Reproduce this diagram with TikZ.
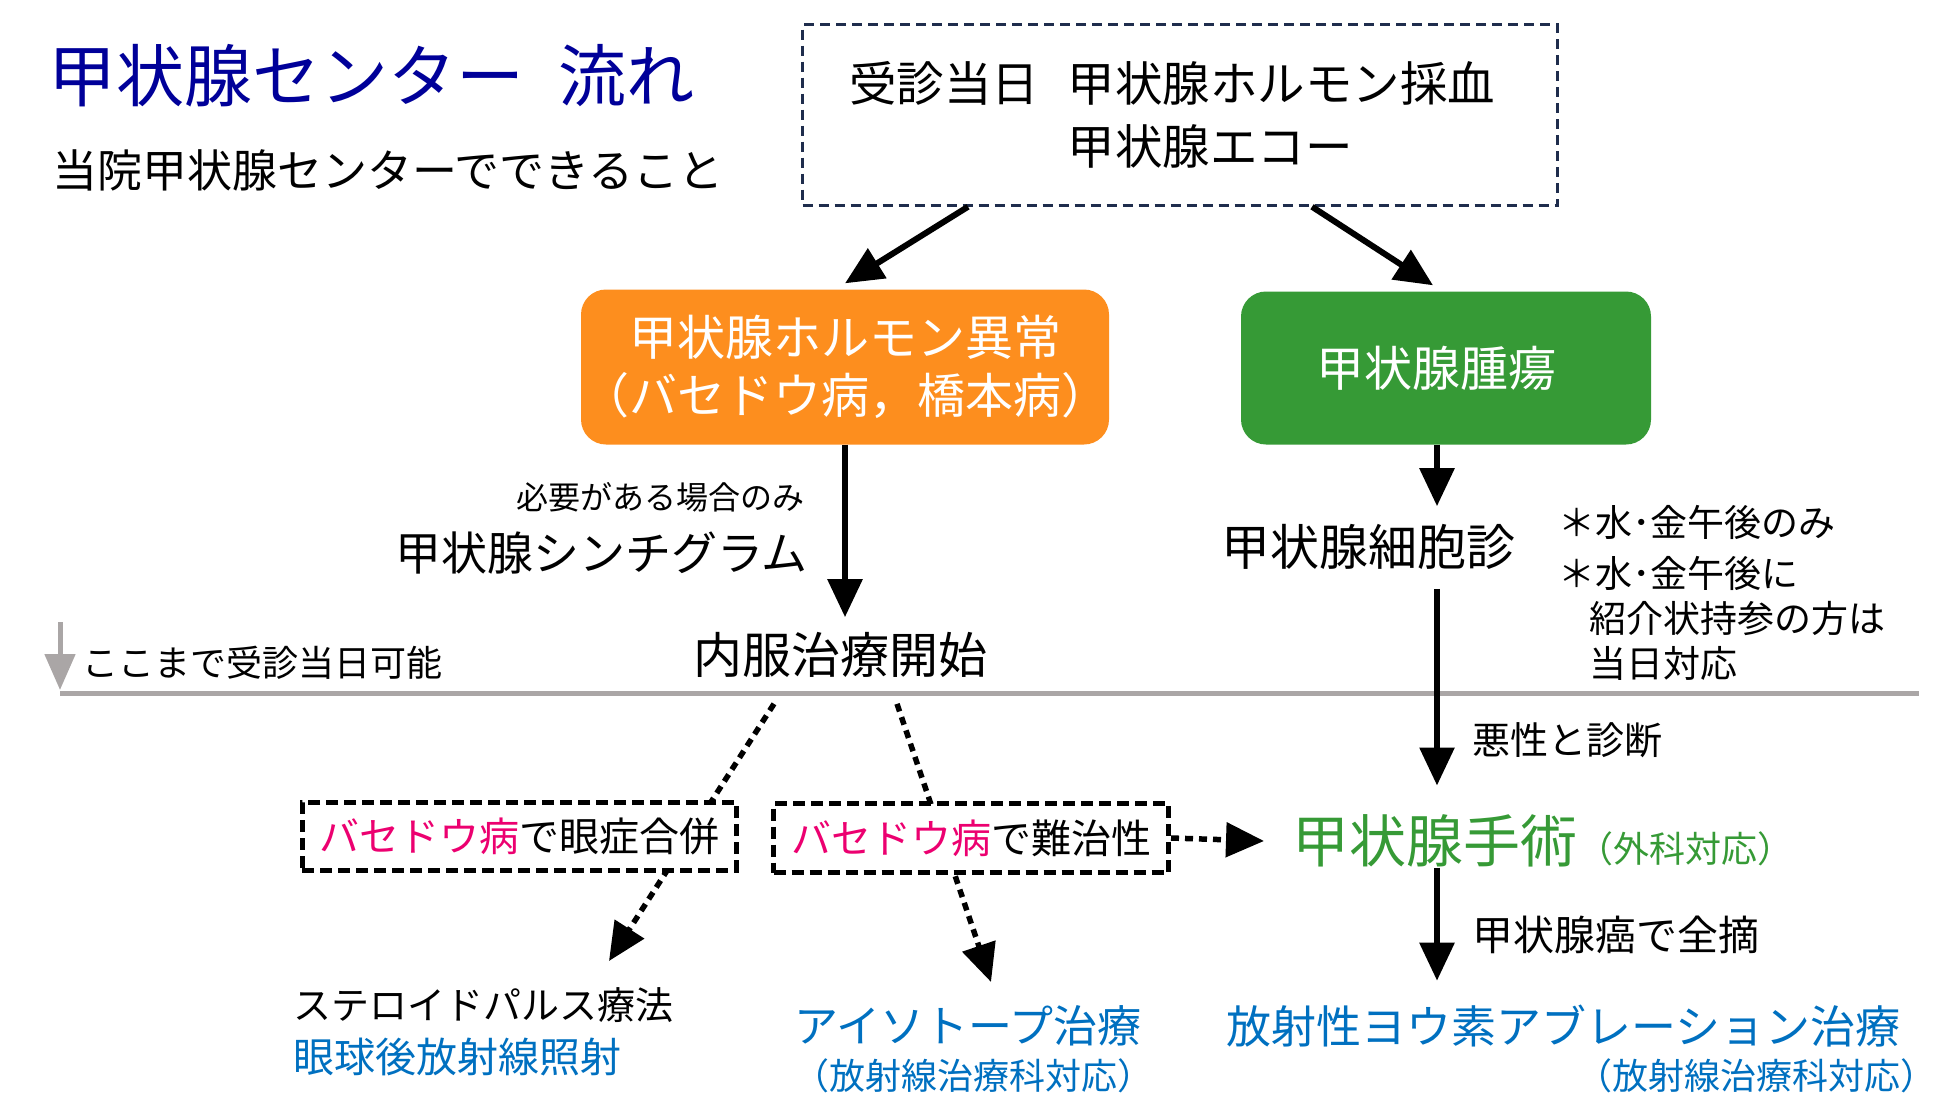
\documentclass[tikz,border=0pt]{standalone}
\usepackage{fontspec}
\setmainfont{Noto Sans CJK JP}
\usetikzlibrary{arrows.meta,positioning,backgrounds}
\definecolor{titleblue}{RGB}{0,0,153}
\definecolor{boxnavy}{RGB}{31,45,77}
\definecolor{horange}{RGB}{253,142,30}
\definecolor{tgreen}{RGB}{54,154,54}
\definecolor{bpink}{RGB}{236,0,112}
\definecolor{rblue}{RGB}{0,112,192}
\definecolor{linegray}{RGB}{170,166,166}
\newcommand{\jsize}[2]{\fontsize{#1}{#2}\selectfont}

\begin{document}
\begin{tikzpicture}[x=1pt,y=-1pt,
 txt/.style={inner sep=0pt,align=left},
 arr/.style={line width=6pt,-{Triangle[length=38pt,width=34pt]}},
 dotarr/.style={line width=5.5pt,dash pattern=on 8pt off 6pt,-{Triangle[length=38pt,width=34pt]}},
 fillbox/.style={rounded corners=25pt,text=white,align=center,inner sep=0pt,minimum height=155pt},
 dashbox/.style={draw,line width=5pt,dash pattern=on 12pt off 6pt,fill=white,minimum height=68pt,inner sep=0pt}]
 \useasboundingbox (0,0) rectangle (1950,1119);
 \node[txt,anchor=west,text=titleblue,font=\jsize{68}{72}] (title) at (48,76) {甲状腺センター\hspace{.5em}流れ};
 \node[txt,anchor=west,font=\jsize{45}{50}] (sub) at (52,170) {当院甲状腺センターでできること};
 \node[draw=boxnavy,line width=2.5pt,dash pattern=on 10pt off 6pt,minimum width=755pt,minimum height=181pt,align=left,font=\jsize{47.5}{63}] (entry) at (1180,115)
 {受診当日\hspace{.6em}甲状腺ホルモン採血\hspace*{16pt}\\\phantom{受診当日}\hspace{.6em}甲状腺エコー};
 \node[fillbox,fill=horange,minimum width=523pt,font=\jsize{48}{58}] (hormone) at (845,367) {甲状腺ホルモン異常\\（バセドウ病，橋本病）};
 \node[fillbox,fill=tgreen,minimum width=410pt,minimum height=153pt,font=\jsize{48}{52}] (tumor) at (1446,368) {甲状腺腫瘍\hspace*{20pt}};
 \node[txt,anchor=east,font=\jsize{32}{36}] (need) at (805,497) {必要がある場合のみ};
 \node[txt,anchor=east,font=\jsize{46}{50}] (scinti) at (808,553) {甲状腺シンチグラム};
 \node[txt,font=\jsize{49}{52}] (naifuku) at (840,655) {内服治療開始};
 \node[txt,font=\jsize{49}{52}] (saibo) at (1368,547) {甲状腺細胞診};
 \node[txt,anchor=west,font=\jsize{37}{45}] (note1) at (1558,522) {＊水･金午後のみ};
 \node[txt,anchor=north west,font=\jsize{37}{45}] (note2) at (1558,556) {＊水･金午後に\\\hspace*{.85em}紹介状持参の方は\\\hspace*{.85em}当日対応};
 \node[txt,anchor=west,font=\jsize{36}{40}] (today) at (82,663) {ここまで受診当日可能};
 \node[txt,anchor=west,font=\jsize{38}{42}] (akusei) at (1472,740) {悪性と診断};
 \node[dashbox,minimum width=434pt,font=\jsize{40}{44}] (eye) at (519,836) {\textcolor{bpink}{バセドウ病}で眼症合併};
 \node[dashbox,minimum width=395pt,minimum height=69pt,font=\jsize{40}{44}] (nanchi) at (971,838) {\textcolor{bpink}{バセドウ病}で難治性};
 \node[txt,anchor=west,text=tgreen,font=\jsize{57}{60}] (surgery) at (1292,841) {甲状腺手術{\jsize{36}{40}（外科対応）}};
 \node[txt,anchor=west,font=\jsize{41}{44}] (zentekki) at (1472,935) {甲状腺癌で全摘};
 \node[txt,anchor=west,text=rblue,font=\jsize{45}{48}] (ablation) at (1226,1026) {放射性ヨウ素アブレーション治療};
 \node[txt,anchor=east,text=rblue,font=\jsize{36}{40}] (ablsub) at (1937,1076) {（放射線治療科対応）};
 \node[txt,anchor=west,text=rblue,font=\jsize{44}{48}] (isotope) at (794,1026) {アイソトープ治療};
 \node[txt,anchor=west,text=rblue,font=\jsize{36}{40}] (isosub) at (793,1076) {（放射線治療科対応）};
 \node[txt,anchor=west,font=\jsize{38}{42}] (steroid) at (293,1005) {ステロイドパルス療法};
 \node[txt,anchor=west,text=rblue,font=\jsize{41}{44}] (retro) at (293,1057) {眼球後放射線照射};
 \coordinate (trunk) at ([xshift=-9pt]tumor.south);
 \coordinate (gl) at (60,693);
 \coordinate (gr) at (1919,693);
 \coordinate (gtop) at (60,622);
 \coordinate (d1e) at (609,961);
 \coordinate (d2e) at (991,982);
 \draw[linegray,line width=5pt] (gl) -- (gr);
 \draw[linegray,line width=5pt,-{Triangle[length=36pt,width=30pt]}] (gtop) -- ([yshift=3pt]gl);
 \draw[arr] ([xshift=-212pt]entry.south) -- ([yshift=6pt]hormone.north);
 \draw[arr] ([xshift=132pt]entry.south) -- ([xshift=-13pt,yshift=6pt]tumor.north);
 \draw[arr] (hormone.south) -- ([yshift=15pt]hormone.south |- naifuku.north);
 \draw[arr] (trunk) -- ([yshift=18pt]trunk |- saibo.north);
 \draw[arr] ([yshift=-19pt]trunk |- saibo.south) -- ([yshift=29pt]trunk |- surgery.north);
 \draw[arr] (trunk |- surgery.south) -- ([yshift=24pt]trunk |- ablation.north);
 \draw[dotarr] (nanchi.east) -- ([xshift=-28pt]surgery.west);
 \begin{pgfonlayer}{background}
 \draw[dotarr] ([xshift=-66pt,yshift=-26pt]naifuku.south) -- (d1e);
 \draw[dotarr] ([xshift=57pt,yshift=-26pt]naifuku.south) -- (d2e);
 \end{pgfonlayer}
\end{tikzpicture}
\end{document}
